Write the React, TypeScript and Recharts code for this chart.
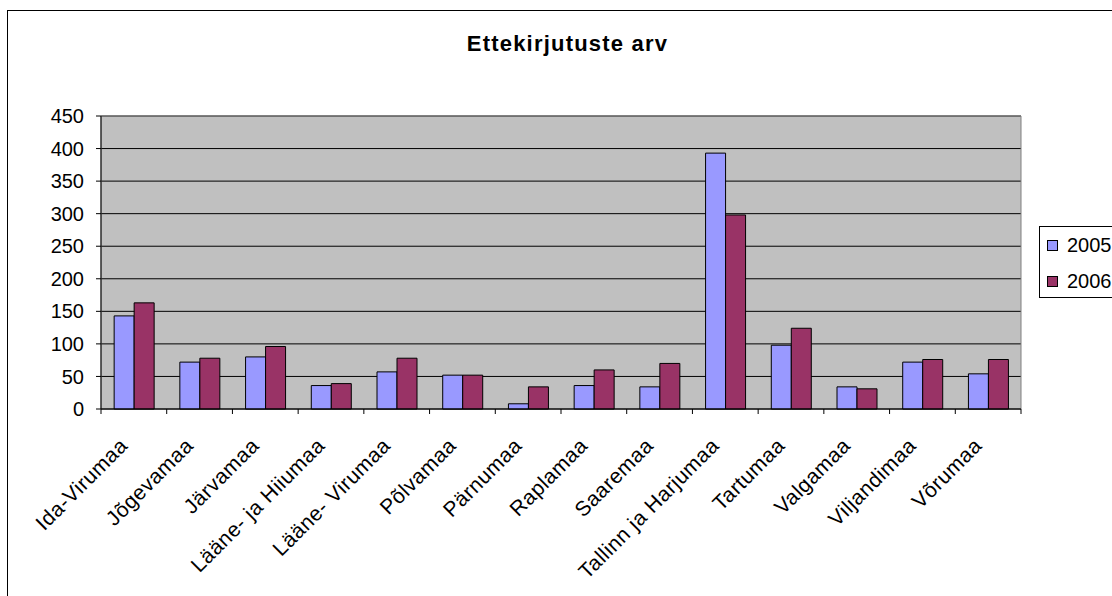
import React from 'react';
import { BarChart, Bar, XAxis, YAxis, CartesianGrid, Legend, ReferenceArea } from 'recharts';

const categories = [
  'Ida-Virumaa', 'Jõgevamaa', 'Järvamaa', 'Lääne- ja Hiiumaa', 'Lääne- Virumaa', 'Põlvamaa', 'Pärnumaa',
  'Raplamaa', 'Saaremaa', 'Tallinn ja Harjumaa', 'Tartumaa', 'Valgamaa', 'Viljandimaa', 'Võrumaa',
];
const values2005 = [143, 72, 80, 36, 57, 52, 8, 36, 34, 393, 98, 34, 72, 54];
const values2006 = [163, 78, 96, 39, 78, 52, 34, 60, 70, 298, 124, 31, 76, 76];
const yTicks = [0, 50, 100, 150, 200, 250, 300, 350, 400, 450];

const data = categories.map((name, i) => ({ name, y2005: values2005[i], y2006: values2006[i] }));

const FONT = 'Arial, "Liberation Sans", sans-serif';

function CategoryTick(props: any) {
  const { x, y, payload, index } = props;
  const off = payload?.offset ?? 0;
  const last = index === categories.length - 1;
  return (
    <g>
      <line x1={x - off} y1={y} x2={x - off} y2={y + 5} stroke="#000" />
      {last && <line x1={x + off} y1={y} x2={x + off} y2={y + 5} stroke="#000" />}
      <text
        transform={`translate(${x - 5},${y + 38}) rotate(-45)`}
        textAnchor="end"
        fontSize={21}
        letterSpacing={0.5}
        fontFamily={FONT}
        fill="#000"
      >
        {payload.value}
      </text>
    </g>
  );
}

function LegendBox({ payload }: any) {
  return (
    <div style={{ border: '1px solid #000', background: '#fff', width: 100, height: 70, fontFamily: FONT }}>
      {payload?.map((p: any, i: number) => (
        <div key={i} style={{ display: 'flex', alignItems: 'center', height: 36 }}>
          <div style={{ width: 9, height: 9, marginLeft: 7, background: p.color, border: '1px solid #000' }} />
          <span style={{ marginLeft: 9, fontSize: 20, color: '#000' }}>{p.value}</span>
        </div>
      ))}
    </div>
  );
}

export default function App() {
  return (
    <div style={{ position: 'absolute', left: 0, top: 0, width: 1112, height: 596, overflow: 'hidden', background: '#fff' }}>
      <div style={{ position: 'absolute', left: 7, top: 10, width: 1300, height: 800, border: '1px solid #000' }} />
      <div
        style={{
          position: 'absolute', left: 0, top: 33, width: 1135, textAlign: 'center',
          fontFamily: FONT, fontWeight: 700, fontSize: 22, lineHeight: '22px', letterSpacing: 1.2, color: '#000',
        }}
      >
        Ettekirjutuste arv
      </div>
      <div style={{ position: 'absolute', left: 0, top: 0 }}>
        <BarChart
          width={1112}
          height={596}
          data={data}
          margin={{ top: 116, right: 91, left: 41, bottom: 147 }}
          barCategoryGap="20%"
          barGap={0}
        >
          <CartesianGrid vertical={false} stroke="#000" fill="#C0C0C0" horizontalValues={yTicks} />
          <ReferenceArea y1={0} y2={450} fill="none" stroke="#808080" strokeWidth={1} />
          <XAxis
            dataKey="name"
            interval={0}
            height={40}
            tickSize={0}
            tickMargin={0}
            tickLine={false}
            axisLine={{ stroke: '#000' }}
            tick={<CategoryTick />}
          />
          <YAxis
            width={60}
            domain={[0, 450]}
            ticks={yTicks}
            interval={0}
            tickSize={5}
            tickMargin={12}
            axisLine={{ stroke: '#000' }}
            tickLine={{ stroke: '#000' }}
            tick={{ fontSize: 20, fill: '#000', fontFamily: FONT }}
          />
          <Legend
            layout="horizontal"
            verticalAlign="middle"
            align="center"
            content={<LegendBox />}
            wrapperStyle={{ left: 1039, top: 226, width: 100, height: 71 }}
          />
          <Bar dataKey="y2005" name="2005" fill="#9999FF" stroke="#000" strokeWidth={1} isAnimationActive={false} />
          <Bar dataKey="y2006" name="2006" fill="#993366" stroke="#000" strokeWidth={1} isAnimationActive={false} />
        </BarChart>
      </div>
    </div>
  );
}
